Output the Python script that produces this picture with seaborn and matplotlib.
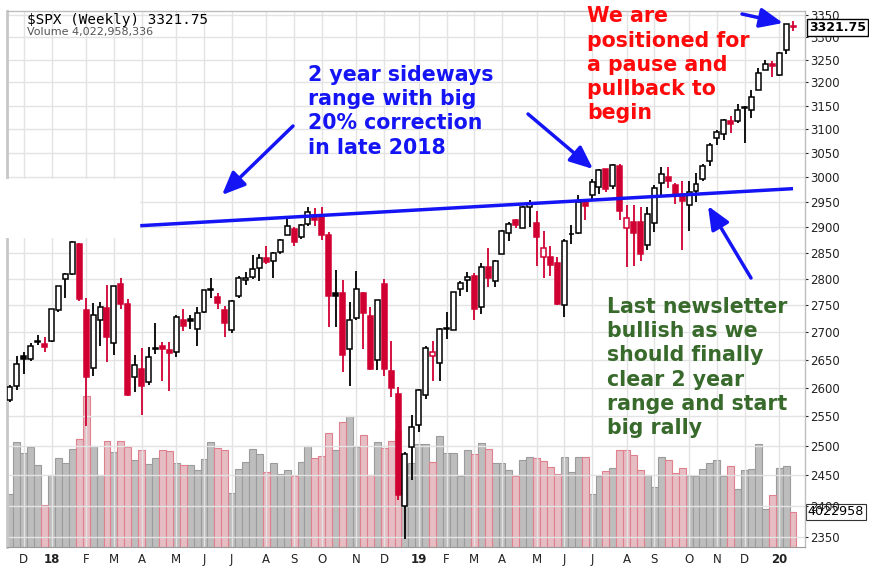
import matplotlib
matplotlib.use('Agg')
import matplotlib.pyplot as plt
import matplotlib.ticker as mticker
from matplotlib.patches import Rectangle
import numpy as np
import pandas as pd
import seaborn as sns

# weekly $SPX candles, week of 2017-11-20 to week of 2020-01-20
weeks = pd.date_range('2017-11-20', periods=114, freq='W-MON')

opens = [2579, 2603, 2657, 2652, 2683, 2679, 2684, 2742, 2799, 2809,
         2867, 2741, 2636, 2722, 2745, 2681, 2790, 2752, 2619, 2633,
         2611, 2671, 2675, 2668, 2664, 2722, 2725, 2706, 2738, 2780,
         2765, 2742, 2705, 2768, 2798, 2804, 2821, 2840, 2835, 2852,
         2884, 2896, 2881, 2906, 2924, 2923, 2885, 2773, 2773, 2670,
         2726, 2773, 2730, 2649, 2790, 2630, 2590, 2400, 2498, 2535,
         2588, 2657, 2644, 2706, 2705, 2780, 2798, 2806, 2747, 2823,
         2796, 2848, 2888, 2914, 2898, 2941, 2908, 2841, 2841, 2830,
         2751, 2886, 2889, 2950, 2964, 2980, 3017, 2982, 3024, 2898,
         2910, 2910, 2866, 2909, 2988, 3001, 2985, 2967, 2944, 2973,
         2996, 3033, 3081, 3089, 3117, 3117, 3144, 3141, 3183, 3227,
         3240, 3217, 3271, 3325]
highs = [2605, 2657, 2665, 2680, 2695, 2692, 2743, 2787, 2811, 2873,
         2870, 2763, 2754, 2756, 2789, 2787, 2802, 2762, 2659, 2672,
         2674, 2717, 2683, 2682, 2732, 2743, 2733, 2747, 2779, 2801,
         2774, 2748, 2760, 2805, 2814, 2845, 2848, 2863, 2851, 2876,
         2916, 2900, 2906, 2941, 2939, 2940, 2890, 2816, 2797, 2756,
         2815, 2775, 2747, 2760, 2800, 2685, 2601, 2489, 2553, 2598,
         2675, 2685, 2708, 2738, 2776, 2795, 2814, 2812, 2831, 2860,
         2836, 2894, 2910, 2916, 2942, 2954, 2932, 2892, 2864, 2841,
         2876, 2905, 2964, 2951, 2996, 3018, 3018, 3028, 3027, 2945,
         2944, 2940, 2940, 2985, 3021, 3022, 2988, 2992, 2993, 3008,
         3027, 3070, 3098, 3121, 3127, 3154, 3150, 3183, 3231, 3248,
         3247, 3267, 3330, 3337]
lows = [2576, 2597, 2624, 2648, 2677, 2664, 2682, 2737, 2763, 2808,
        2759, 2533, 2622, 2675, 2647, 2659, 2743, 2585, 2593, 2553,
        2605, 2660, 2612, 2594, 2655, 2702, 2707, 2676, 2735, 2764,
        2743, 2692, 2698, 2764, 2789, 2799, 2795, 2829, 2802, 2847,
        2884, 2864, 2876, 2903, 2903, 2874, 2710, 2710, 2628, 2603,
        2722, 2670, 2631, 2631, 2621, 2584, 2409, 2346, 2443, 2524,
        2580, 2613, 2612, 2687, 2704, 2768, 2775, 2723, 2734, 2785,
        2785, 2848, 2873, 2898, 2898, 2900, 2825, 2801, 2805, 2750,
        2728, 2868, 2887, 2914, 2952, 2966, 2970, 2976, 2914, 2822,
        2825, 2834, 2856, 2891, 2964, 2978, 2946, 2855, 2892, 2951,
        2992, 3023, 3066, 3078, 3091, 3113, 3070, 3123, 3183, 3227,
        3212, 3214, 3263, 3313]
closes = [2602, 2642, 2652, 2676, 2684, 2674, 2743, 2786, 2810, 2872,
          2762, 2619, 2732, 2747, 2691, 2786, 2752, 2588, 2641, 2604,
          2656, 2670.1, 2669.9, 2663, 2728, 2712, 2721, 2735, 2779, 2779.7,
          2755, 2718, 2759, 2801.3, 2801.8, 2819, 2840, 2833, 2850, 2874,
          2902, 2872, 2905, 2930, 2914, 2885, 2767.1, 2767.8, 2659, 2723,
          2781, 2736, 2633, 2760, 2633, 2600, 2417, 2486, 2532, 2596,
          2671, 2665, 2707, 2708, 2776, 2793, 2804, 2743, 2822, 2801,
          2834, 2893, 2907, 2905, 2940, 2946, 2881, 2860, 2826, 2752,
          2873, 2887, 2950, 2942, 2990, 3014, 2977, 3026, 2932, 2919,
          2889, 2847, 2926, 2979, 3007, 2992, 2962, 2952, 2970, 2986,
          3023, 3067, 3093, 3120, 3110, 3141, 3146, 3169, 3221, 3240,
          3235, 3265, 3330, 3321.75]
# weekly volume, billions
volume = [6.1, 12.1, 10.8, 11.5, 9.4, 4.8, 8.3, 10.2, 9.7, 11.3,
          12.4, 17.3, 11.6, 8.3, 12.2, 10.9, 12.2, 11.5, 10.0, 11.2,
          9.5, 10.2, 11.2, 11.0, 9.7, 9.4, 9.4, 8.9, 10.1, 12.1,
          11.4, 11.2, 6.2, 9.0, 9.8, 11.3, 10.7, 8.6, 9.7, 8.4,
          8.9, 8.2, 9.8, 11.6, 10.2, 10.5, 13.1, 11.2, 14.4, 15.0,
          11.5, 12.9, 8.3, 12.1, 11.4, 12.2, 13.5, 9.5, 9.7, 11.8,
          11.8, 9.8, 12.7, 10.8, 10.8, 8.2, 11.2, 10.7, 12.0, 11.3,
          9.7, 9.7, 8.9, 8.2, 10.0, 10.4, 10.2, 9.9, 9.2, 8.4,
          10.4, 8.6, 10.4, 10.4, 6.1, 8.2, 8.7, 9.1, 11.2, 11.2,
          10.6, 8.9, 8.3, 6.9, 10.4, 10.0, 8.5, 9.1, 8.2, 8.2,
          9.0, 9.7, 10.0, 8.2, 9.3, 6.7, 8.9, 9.0, 11.8, 4.4,
          6.0, 9.1, 9.3, 4.022958336]

price_ticks = list(range(2350, 3351, 50))
trend_x = [18.8, 113.0]
trend_y = [2903, 2977]

blue_note = ['2 year sideways', 'range with big', '20% correction', 'in late 2018']
red_note = ['We are', 'positioned for', 'a pause and', 'pullback to', 'begin']
green_note = ['Last newsletter', 'bullish as we', 'should finally',
              'clear 2 year', 'range and start', 'big rally']

BLUE = '#1414f5'
RED = '#ff0a0a'
GREEN = '#386a2c'
CANDLE_RED = '#d10032'

sns.set_style('white')
plt.rcParams['font.family'] = ['DejaVu Sans']

df = pd.DataFrame({'week': np.arange(len(weeks)), 'open': opens, 'high': highs,
                   'low': lows, 'close': closes, 'volume': volume})
df['down'] = df['close'] < df['close'].shift(1)
df['move'] = np.where(df['down'], 'down', 'up')
df['filled'] = df['close'] < df['open']

W, H = 869, 573
fig = plt.figure(figsize=(W / 100, H / 100), dpi=100)
left, right, top, bottom = 7, 805, 11, 547
ax = fig.add_axes([left / W, 1 - bottom / H, (right - left) / W, (bottom - top) / H])
ax_vol = ax.twinx()
ax.set_zorder(ax_vol.get_zorder() + 1)
ax.patch.set_visible(False)

# volume bars behind the price
sns.barplot(data=df, x='week', y='volume', hue='move',
            palette={'up': '#bdbdbd', 'down': '#ecb6be'},
            native_scale=True, dodge=False, width=1.0, errorbar=None,
            legend=False, ax=ax_vol)
for p in ax_vol.patches:
    r, g, b, a = p.get_facecolor()
    p.set_edgecolor('#e0808f' if r - b > 0.1 else '#9b9b9b')
    p.set_linewidth(0.8)
ax_vol.set_ylim(0, 61.6)
ax_vol.set_yticks([])
ax_vol.set_ylabel('')
ax_vol.set_xlabel('')
for s in ax_vol.spines.values():
    s.set_visible(False)

# candles
edge = np.where(df['down'], CANDLE_RED, 'black')
face = [e if f else 'white' for e, f in zip(edge, df['filled'])]
ax.vlines(df['week'], df['low'], df['high'], colors=edge, lw=1.3, zorder=3)
body_lo = np.minimum(df['open'], df['close'])
body_h = np.maximum(np.abs(df['close'] - df['open']), 1.0)
ax.bar(df['week'], body_h, bottom=body_lo, width=0.72, color=face,
       edgecolor=edge, linewidth=1.1, zorder=4)

ax.plot(trend_x, trend_y, color=BLUE, lw=2.5, zorder=5, solid_capstyle='butt')

ax.set_yscale('log')
ax.set_ylim(2333.6, 3359)
ax.set_xlim(-0.43, 114.73)
ax.yaxis.set_major_locator(mticker.FixedLocator(price_ticks))
ax.yaxis.set_major_formatter(mticker.FuncFormatter(lambda v, _: f'{v:.0f}'))
ax.yaxis.set_minor_locator(mticker.NullLocator())
ax.yaxis.set_minor_formatter(mticker.NullFormatter())
ax.yaxis.tick_right()
ax.tick_params(axis='y', which='major', length=2, pad=2, labelsize=8.5,
               colors='#222222')

month_idx = df['week'][weeks.day <= 7].tolist()
month_lab = [weeks[i].strftime('%y') if weeks[i].month == 1 else weeks[i].strftime('%b')[0]
             for i in month_idx]
ax.set_xticks(month_idx)
ax.set_xticklabels(month_lab)
ax.tick_params(axis='x', length=0, pad=4, labelsize=8.5, colors='#222222')
for t, lab in zip(ax.get_xticklabels(), month_lab):
    if lab.isdigit():
        t.set_fontweight('bold')

ax.grid(True, which='major', color='#e3e3e3', lw=1)
ax.set_axisbelow(True)
ax.spines['left'].set_color('#c8c8c8')
ax.spines['left'].set_linewidth(2)
for s in ['right', 'top']:
    ax.spines[s].set_color('#bdbdbd')
    ax.spines[s].set_linewidth(1)
ax.spines['bottom'].set_color('#9a9a9a')

# pasted white block at the left
ax.add_patch(Rectangle((0, 1 - 238 / H), 140 / W, 59 / H, transform=fig.transFigure,
                       facecolor='white', edgecolor='none', zorder=2.6, clip_on=False))

# last value boxes (they sit over the 3300 and 2400 labels, as in the source)
ax.annotate(f'{closes[-1]:.2f}', xy=(1.0, closes[-1]), xycoords=('axes fraction', 'data'),
            xytext=(3, 0), textcoords='offset points', va='center', ha='left',
            fontsize=9, fontweight='bold', color='black',
            bbox=dict(boxstyle='square,pad=0.15', fc='white', ec='black', lw=1),
            annotation_clip=False, zorder=10)
ax_vol.annotate(f'{round(volume[-1] * 1e9)}'[:7], xy=(1.0, volume[-1]),
                xycoords=('axes fraction', 'data'), xytext=(2, 0),
                textcoords='offset points', va='center', ha='left',
                fontsize=9.2, color='black',
                bbox=dict(boxstyle='square,pad=0.15', fc='white', ec='#333333', lw=0.8),
                annotation_clip=False, zorder=10)

# header
fig.text(27 / W, 1 - 24 / H, f'$SPX (Weekly) {closes[-1]:.2f}', family='DejaVu Sans Mono',
         fontsize=10.3, color='black', va='baseline')
fig.text(27 / W, 1 - 35 / H, f'Volume {round(volume[-1] * 1e9):,}', fontsize=8,
         color='#555555', va='baseline')


def note(lines, x, y0, color):
    for k, line in enumerate(lines):
        fig.text(x / W, 1 - (y0 + k * 24.2) / H, line, fontsize=14.8,
                 fontweight='bold', color=color, va='baseline', ha='left')


note(blue_note, 308, 81, BLUE)
note(red_note, 587, 22.5, RED)
note(green_note, 607, 313, GREEN)


def arrow(tail, head):
    ax.annotate('', xy=(head[0], H - head[1]), xycoords='figure pixels',
                xytext=(tail[0], H - tail[1]), textcoords='figure pixels',
                arrowprops=dict(arrowstyle='-|>,head_length=0.7,head_width=0.3',
                                color=BLUE, lw=2.5, mutation_scale=20,
                                shrinkA=0, shrinkB=0),
                annotation_clip=False, zorder=9)


arrow((293, 126), (222, 195))
arrow((528, 114), (593, 169))
arrow((751, 278), (708, 206))
arrow((742, 14), (783, 23))

fig.savefig('out.png', dpi=100)
